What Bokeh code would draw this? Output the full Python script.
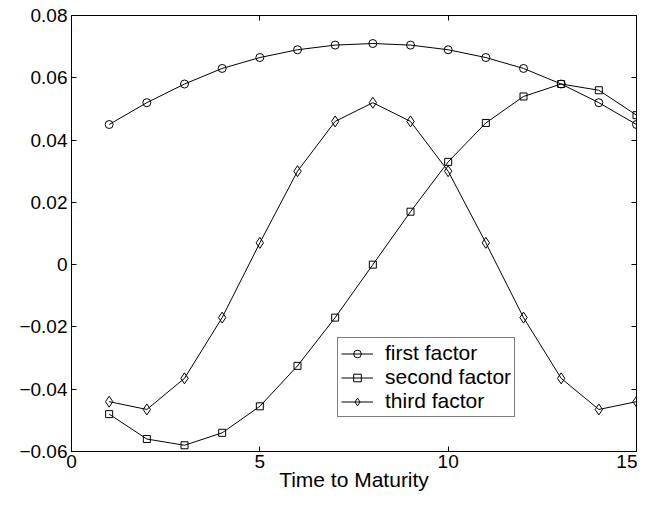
from bokeh.plotting import figure
from bokeh.models import Range1d, FixedTicker, LinearAxis
from bokeh.embed import file_html
from bokeh.resources import INLINE

maturity = [1, 2, 3, 4, 5, 6, 7, 8, 9, 10, 11, 12, 13, 14, 15]
first_factor = [0.045, 0.052, 0.058, 0.063, 0.0665, 0.069, 0.0705, 0.071,
                0.0705, 0.069, 0.0665, 0.063, 0.058, 0.052, 0.045]
second_factor = [-0.048, -0.056, -0.058, -0.054, -0.0455, -0.0325, -0.017, 0.0,
                 0.017, 0.033, 0.0455, 0.054, 0.058, 0.056, 0.048]
third_factor = [-0.044, -0.0465, -0.0365, -0.017, 0.007, 0.030, 0.046, 0.052,
                0.046, 0.030, 0.007, -0.017, -0.0365, -0.0465, -0.044]

x_ticks = [0, 5, 10, 15]
y_ticks = [-0.06, -0.04, -0.02, 0, 0.02, 0.04, 0.06, 0.08]
y_tick_labels = ["\u22120.06", "\u22120.04", "\u22120.02", "0", "0.02", "0.04", "0.06", "0.08"]

FONT = "Liberation Sans"
TICK_FS = "19px"
LABEL_FS = "21px"

p = figure(width=637, height=493, output_backend="svg", toolbar_location=None,
           x_range=Range1d(0, 15), y_range=Range1d(-0.06, 0.08),
           min_border_left=71, min_border_right=1, min_border_top=15, min_border_bottom=10)
p.grid.visible = False
p.outline_line_color = "black"
p.outline_line_width = 1
p.background_fill_color = "white"
p.border_fill_color = "white"

for ax in (p.xaxis[0], p.yaxis[0]):
    ax.major_tick_in = 5
    ax.major_tick_out = 0
    ax.minor_tick_line_color = None
    ax.axis_line_color = "black"
    ax.major_tick_line_color = "black"
    ax.major_label_text_font = FONT
    ax.major_label_text_font_size = TICK_FS
    ax.major_label_text_color = "black"
    ax.axis_label_text_font = FONT
    ax.axis_label_text_font_size = LABEL_FS
    ax.axis_label_text_font_style = "normal"
    ax.axis_label_text_color = "black"

p.xaxis[0].ticker = FixedTicker(ticks=x_ticks)
p.yaxis[0].ticker = FixedTicker(ticks=y_ticks)
p.yaxis[0].major_label_overrides = dict(zip(y_ticks, y_tick_labels))
p.xaxis[0].axis_label = "Time to Maturity"
p.xaxis[0].axis_label_standoff = -3
p.xaxis[0].major_label_standoff = 3
p.yaxis[0].major_label_standoff = 4

right = LinearAxis(ticker=FixedTicker(ticks=y_ticks))
top = LinearAxis(ticker=FixedTicker(ticks=x_ticks))
right.major_label_overrides = {t: "" for t in y_ticks}
top.major_label_overrides = {t: "" for t in x_ticks}
for ax in (right, top):
    ax.major_tick_in = 5
    ax.major_tick_out = 0
    ax.minor_tick_line_color = None
    ax.axis_line_color = None
    ax.major_tick_line_color = "black"
    ax.major_label_text_font_size = "1px"
    ax.major_label_standoff = 0
p.add_layout(right, "right")
p.add_layout(top, "above")

series = [
    (first_factor, "circle", 8, "first factor"),
    (second_factor, "square", 7, "second factor"),
    (third_factor, "diamond", 11, "third factor"),
]
for ys, marker, size, label in series:
    p.line(maturity, ys, line_color="black", line_width=1, legend_label=label)
    p.scatter(maturity, ys, marker=marker, size=size, fill_color=None,
              line_color="black", line_width=1, legend_label=label)

lg = p.legend[0]
lg.location = (266, 34)
lg.border_line_color = "black"
lg.border_line_width = 1
lg.background_fill_color = "white"
lg.background_fill_alpha = 1
lg.label_text_font = FONT
lg.label_text_font_size = LABEL_FS
lg.label_text_color = "black"
lg.glyph_width = 32
lg.glyph_height = 19
lg.label_height = 19
lg.label_standoff = 12
lg.spacing = -2
lg.padding = 3
lg.margin = 0

open("out.html", "w").write(file_html(p, INLINE))
